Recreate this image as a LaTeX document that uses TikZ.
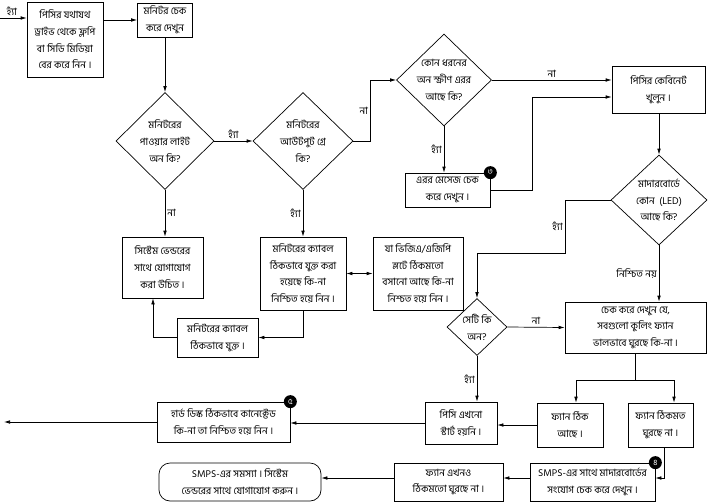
\documentclass[tikz,border=0pt]{standalone}
\usepackage{fontspec}
\usepackage{tikz}
\usetikzlibrary{arrows.meta,shapes.geometric}
\newfontfamily\bangla[Script=Bengali]{Hind Siliguri}
\newcommand\bnsize{\fontsize{10}{16.8}\selectfont}

\begin{document}
\begin{tikzpicture}[
  x=1pt, y=-1pt,
  every node/.style={font=\bangla\bnsize},
  box/.style={draw, line width=0.7pt, align=center, inner sep=0pt},
  dia/.style={draw, line width=0.7pt, diamond, inner sep=0pt},
  dtext/.style={align=center, inner sep=0pt},
  badge/.style={circle, fill=black, text=white, inner sep=0pt, minimum size=13pt, font=\bangla\fontsize{8}{8}\selectfont},
  flow/.style={-{Latex[length=6pt,width=3.6pt]}, line width=0.7pt},
  lbl/.style={inner sep=2pt}
]
\useasboundingbox (0,0) rectangle (711,503);
\fill[white] (0,0) rectangle (711,503);

% top row
\coordinate (start) at (0,18);
\node[box, minimum width=76, minimum height=75] (eject) at (65,39.5) {পিসির যথাযথ\\ড্রাইভ থেকে ফ্লপি\\বা সিডি মিডিয়া\\বের করে নিন ।};
\node[box, minimum width=55, minimum height=34] (monchk) at (165,20) {মনিটর চেক\\করে দেখুন};

% decisions
\node[dia, minimum width=98, minimum height=97, label={[dtext]center:{মনিটরের\\পাওয়ার লাইট\\অন কি?}}] (power) at (165,141) {};
\node[dia, minimum width=100, minimum height=97, label={[dtext]center:{মনিটরের\\আউটপুট গ্রে\\কি?}}] (grey) at (303,141) {};
\node[dia, minimum width=95, minimum height=92, label={[dtext]center:{কোন ধরনের\\অন স্ক্রীণ এরর\\আছে কি?}}] (onscr) at (444,80) {};
\node[dia, minimum width=96, minimum height=90, label={[dtext]center:{মাদারবোর্ডে\\কোন \ (LED)\\আছে কি?}}] (led) at (659,200) {};
\node[dia, minimum width=60, minimum height=57, label={[dtext]center:{সেটি কি\\অন?}}] (ison) at (477,327) {};

% boxes
\node[box, minimum width=93, minimum height=47] (cabinet) at (658.5,89.5) {পিসির কেবিনেট\\খুলুন ।};
\node[box, minimum width=85, minimum height=34] (errmsg) at (447.5,190) {এরর মেসেজ চেক\\করে দেখুন ।};
\node[box, minimum width=81, minimum height=61] (vendor) at (162.5,267.5) {সিস্টেম ভেন্ডরের\\সাথে যোগাযোগ\\করা উচিত ।};
\node[box, minimum width=86, minimum height=73] (cable) at (303,273.5) {মনিটরের ক্যাবল\\ঠিকভাবে যুক্ত করা\\হয়েছে কি-না\\নিশ্চিত হয়ে নিন ।};
\node[box, minimum width=90, minimum height=73] (vga) at (418,273.5) {যা ভিজিএ/এজিপি\\স্লটে ঠিকমতো\\বসানো আছে কি-না\\নিশ্চত হয়ে নিন ।};
\node[box, minimum width=81, minimum height=39] (cableok) at (217.5,337.5) {মনিটরের ক্যাবল\\ঠিকভাবে যুক্ত ।};
\node[box, minimum width=141, minimum height=51] (fans) at (635.5,327.5) {চেক করে দেখুন যে,\\সবগুলো কুলিং ফ্যান\\ভালভাবে ঘুরছে কি-না ।};
\node[box, minimum width=66, minimum height=44] (fanok) at (570,425) {ফ্যান ঠিক\\আছে ।};
\node[box, minimum width=65, minimum height=44] (fanbad) at (660.5,425) {ফ্যান ঠিকমত\\ঘুরছে না ।};
\node[box, minimum width=72, minimum height=42] (nostart) at (461,423) {পিসি এখনো\\স্টার্ট হয়নি ।};
\node[box, minimum width=133, minimum height=40] (hdd) at (223.5,422) {হার্ড ডিস্ক ঠিকভাবে কানেক্টেড\\কি-না তা নিশ্চিত হয়ে নিন ।};
\node[box, minimum width=125, minimum height=38] (smps) at (592.5,482) {SMPS-এর সাথে মাদারবোর্ডের\\সংযোগ চেক করে দেখুন ।};
\node[box, minimum width=109, minimum height=38] (fanstill) at (448.5,482) {ফ্যান এখনও\\ঠিকমতো ঘুরছে না ।};
\node[box, rounded corners=11pt, minimum width=162, minimum height=38] (smpsbad) at (240,482) {SMPS-এর সমস্যা । সিস্টেম\\ভেন্ডরের সাথে যোগাযোগ করুন ।};

% numbered badges
\node[badge] (b3) at (errmsg.north east) {৩};
\node[badge] (b5) at (hdd.north east) {৫};
\node[badge] (b4) at (smps.north east) {৪};

% connectors
\draw[flow] (start) -- (start -| eject.west) node[lbl, pos=0.45, above] {হ্যাঁ};
\draw[flow] (monchk.west -| eject.east) -- (monchk.west);
\draw[flow] (monchk.south) -- (power.north);
\draw[flow] (power.east) -- (grey.west) node[lbl, midway, above] {হ্যাঁ};
\draw[flow] (power.south) -- (vendor.north -| power.south) node[lbl, midway, right] {না};
\draw[flow] (grey.east) -- ++(17,0) |- (onscr.west) node[lbl, pos=0.25, left] {না};
\draw[flow] (grey.south) -- (cable.north) node[lbl, midway, left] {হ্যাঁ};
\draw[flow] (onscr.east) -- (onscr.east -| cabinet.west) node[lbl, midway, above] {না};
\draw[flow] (onscr.south) -- (errmsg.north -| onscr.south) node[lbl, midway, left] {হ্যাঁ};
\draw[flow] (errmsg.east) -- ++(42,0) |- (cabinet.west |- 0,97);
\draw[flow] (cabinet.south -| led.north) -- (led.north);
\draw[flow] (led.west) -| node[lbl, pos=0.75, left] {হ্যাঁ} (565,253) -| (ison.north);
\draw[flow] (led.south) -- (fans.north -| led.south) node[lbl, midway, left] {নিশ্চিত নয়};
\draw[flow] (ison.east) -- (fans.west) node[lbl, midway, above] {না};
\draw[flow] (ison.south) -- (nostart.north -| ison.south) node[lbl, midway, left] {হ্যাঁ};
\draw[{Latex[length=6pt,width=3.6pt]}-{Latex[length=6pt,width=3.6pt]}, line width=0.7pt] (cable.east) -- (vga.west);
\draw[flow] (cable.south) |- (cableok.east);
\draw[flow] (cableok.west) -| ([xshift=-9.5pt]vendor.south);
\coordinate (split) at (635.5,380);
\draw[line width=0.7pt] (fans.south) -- (split);
\draw[flow] (split) -| ([xshift=6pt]fanok.north);
\draw[flow] (split) -| ([xshift=13.5pt]fanbad.north);
\draw[flow] (fanok.west) -- (fanok.west -| nostart.east);
\draw[flow] (nostart.west) -- (nostart.west -| hdd.east);
\coordinate (exit) at (4,422);
\draw[flow] (hdd.west) -- (exit);
\draw[flow] ([xshift=4pt]fanbad.south) |- ([yshift=4pt]smps.east);
\draw[flow] ([yshift=4pt]smps.west) -- ([yshift=4pt]fanstill.east);
\draw[flow] ([yshift=4pt]fanstill.west) -- ([yshift=4pt]smpsbad.east);
\end{tikzpicture}
\end{document}
